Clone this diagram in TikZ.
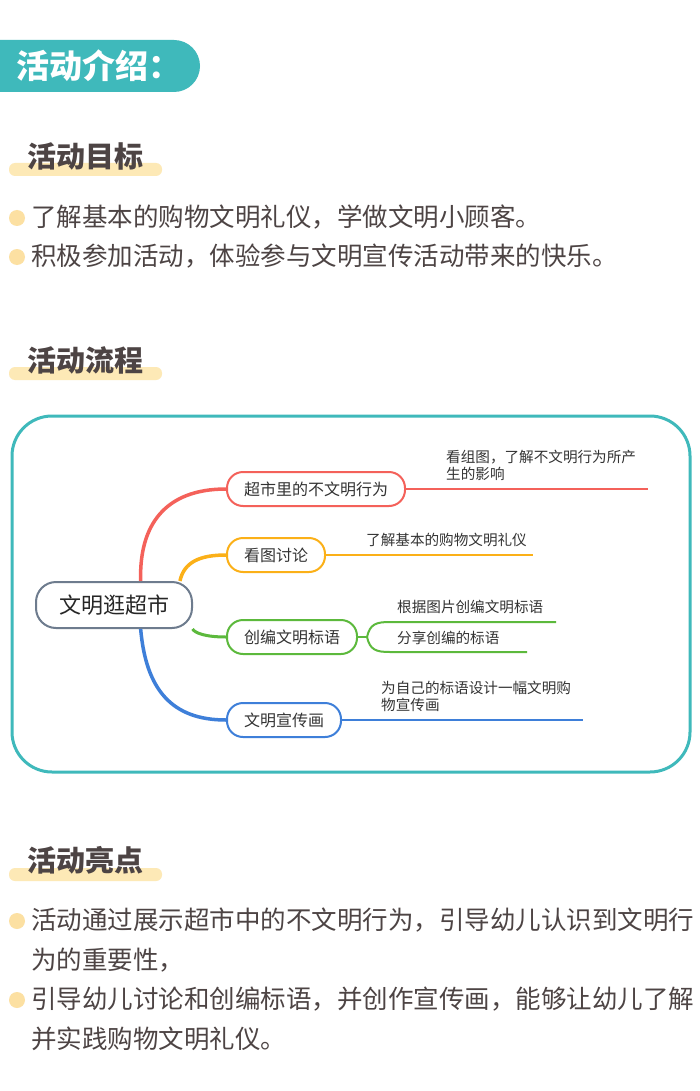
\documentclass[tikz,border=0pt]{standalone}
\usepackage{fontspec}
\setmainfont{Noto Sans CJK SC}
\usetikzlibrary{positioning}

\definecolor{turquesa}{HTML}{3FB9BB}
\definecolor{barra}{HTML}{FDE9B6}
\definecolor{punto}{HTML}{FCE0A2}
\definecolor{texto}{HTML}{4D4444}
\definecolor{rojo}{HTML}{F4615A}
\definecolor{naranja}{HTML}{FBB018}
\definecolor{verde}{HTML}{5CB93C}
\definecolor{azul}{HTML}{3E7FD9}
\definecolor{gris}{HTML}{6E7C8E}

\tikzset{
  titulo/.style={anchor=west, inner sep=0pt, text=texto, font=\fontsize{29}{31}\selectfont\bfseries},
  cuerpo/.style={anchor=west, inner sep=0pt, text=texto, font=\fontsize{25.5}{28}\selectfont},
  rama/.style={draw=#1, line width=2pt, fill=white, rounded corners=16pt, minimum height=34pt,
    inner xsep=17pt, text=black!80, font=\fontsize{16}{18}\selectfont},
  hoja/.style={anchor=north west, inner sep=0pt, align=left, text=black!80,
    font=\fontsize{14.6}{17}\selectfont},
}

\begin{document}
\begin{tikzpicture}[x=1pt,y=-1pt]
        \useasboundingbox (0,0) rectangle (700,1091);
        \fill[white] (0,0) rectangle (700,1091);

        % Encabezado
        \fill[turquesa] (0,40) [rounded corners=26pt] -- (200,40) -- (200,92) [sharp corners] -- (0,92) -- cycle;
        \node[anchor=west, inner sep=0pt, text=white, font=\fontsize{33}{35}\selectfont\bfseries] (intro) at (16,66) {活动介绍：};

        % Objetivos
        \fill[barra, rounded corners=6pt] (9,163) rectangle (162,176);
        \node[titulo] (meta) at (27,156) {活动目标};
        \fill[punto] (17,218) circle (8);
        \node[cuerpo] (meta1) at (31,217) {了解基本的购物文明礼仪，学做文明小顾客。};
        \fill[punto] (17,257) circle (8);
        \node[cuerpo] (meta2) at (31,256) {积极参加活动，体验参与文明宣传活动带来的快乐。};

        % Proceso
        \fill[barra, rounded corners=6pt] (9,367) rectangle (162,380);
        \node[titulo] (flujo) at (27,360) {活动流程};

        % Mapa mental
        \draw[turquesa, line width=3pt, rounded corners=40pt] (12,416) rectangle (690,772);

        \node[draw=gris, line width=2pt, fill=white, rounded corners=20pt, minimum width=156pt,
          minimum height=46pt, font=\fontsize{22}{24}\selectfont, text=black!85] (raiz) at (114,605) {文明逛超市};

        \node[rama=rojo, anchor=west] (b1) at (226,489) {超市里的不文明行为};
        \node[rama=naranja, anchor=west] (b2) at (226,555) {看图讨论};
        \node[rama=verde, anchor=west] (b3) at (226,637) {创编文明标语};
        \node[rama=azul, anchor=west] (b4) at (226,720) {文明宣传画};

        % Curvas
        \draw[rojo, line width=3.5pt] (raiz.42) .. controls (139,525) and (165,489) .. (b1.west);
        \draw[naranja, line width=3.5pt] (raiz.20) .. controls (184,562) and (200,555) .. (b2.west);
        \draw[verde, line width=3pt] (raiz.-17) .. controls (195,633) and (205,637) .. (b3.west);
        \draw[azul, line width=3.5pt] (raiz.-42) .. controls (146,690) and (172,720) .. (b4.west);

        % Hojas
        \coordinate (e1) at (648,489);
        \draw[rojo, line width=2pt] (b1.east) -- (e1);
        \node[hoja] (h1) at (446,450) {看组图，了解不文明行为所产\\生的影响};

        \coordinate (e2) at (533,555);
        \draw[naranja, line width=2pt] (b2.east) -- (e2);
        \node[hoja] (h2) at (366,533) {了解基本的购物文明礼仪};

        \coordinate (g0) at (367,637);
        \coordinate (g1) at (556,622);
        \coordinate (g2) at (527,652);
        \draw[verde, line width=2pt] (b3.east) -- (g0);
        \draw[verde, line width=2pt] (g0) .. controls (370,624) and (376,622) .. (390,622) -- (g1);
        \draw[verde, line width=2pt] (g0) .. controls (370,650) and (376,652) .. (390,652) -- (g2);
        \node[hoja] (h3) at (397,600) {根据图片创编文明标语};
        \node[hoja] (h4) at (397,631) {分享创编的标语};

        \coordinate (e4) at (583,720);
        \draw[azul, line width=2pt] (b4.east) -- (e4);
        \node[hoja] (h5) at (381,681) {为自己的标语设计一幅文明购\\物宣传画};

        % Puntos destacados
        \fill[barra, rounded corners=6pt] (9,868) rectangle (162,881);
        \node[titulo] (brillo) at (27,860) {活动亮点};
        \fill[punto] (17,921) circle (8);
        \node[cuerpo] (bri1) at (31,920) {活动通过展示超市中的不文明行为，引导幼儿认识到文明行};
        \node[cuerpo] (bri1b) at (31,960) {为的重要性，};
        \fill[punto] (17,1000) circle (8);
        \node[cuerpo] (bri2) at (31,999) {引导幼儿讨论和创编标语，并创作宣传画，能够让幼儿了解};
        \node[cuerpo] (bri2b) at (31,1039) {并实践购物文明礼仪。};
\end{tikzpicture}
\end{document}
